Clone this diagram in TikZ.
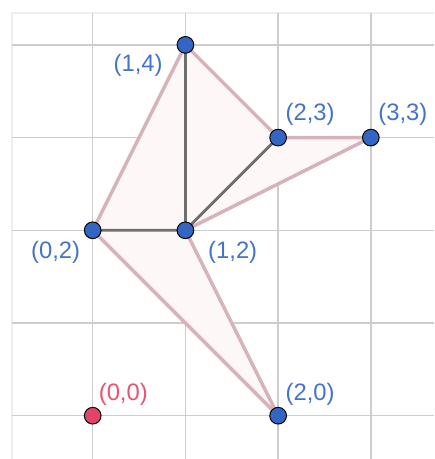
\documentclass[tikz,border=0pt]{standalone}
\usepackage{fontspec}
\setmainfont{Liberation Sans}
\usetikzlibrary{calc}
\definecolor{gridgray}{HTML}{CDCDCD}
\definecolor{framegray}{HTML}{EEEEEE}
\definecolor{edgepink}{HTML}{D7B3B9}
\definecolor{fillpink}{HTML}{FDF7F8}
\definecolor{edgegray}{HTML}{6E6E6E}
\definecolor{ptblue}{HTML}{3366C4}
\definecolor{ptred}{HTML}{E14466}
\definecolor{txtblue}{HTML}{4474C8}
\definecolor{txtred}{HTML}{E8546F}

\begin{document}
\begin{tikzpicture}[x=2cm, y=2cm,
  font=\fontsize{14.6}{16}\selectfont,
  gl/.style={draw=gridgray, line width=0.9pt},
  outer/.style={draw=edgepink, line width=2.1pt, line join=round},
  inner/.style={draw=edgegray, line width=1.7pt, line cap=round},
  pt/.style={circle, draw=black, line width=0.6pt, fill=ptblue, minimum size=0.36cm, inner sep=0pt},
  ptr/.style={pt, fill=ptred},
  lbl/.style={text=txtblue, inner sep=0pt},
  lblr/.style={lbl, text=txtred}]
  \useasboundingbox (-1.0,-0.467) rectangle (3.682,4.484);
  % ---- frame and grid
  \draw[framegray, line width=0.8pt] (-0.87,-0.467) -- (-0.87,4.344) -- (3.682,4.344);
  \foreach \gx in {0,...,3} \draw[gl] (\gx,-0.467) -- (\gx,4.344);
  \foreach \gy in {0,...,4} \draw[gl] (-0.87,\gy) -- (3.682,\gy);
  % ---- vertices
  \coordinate (p00) at (0,0);
  \coordinate (p02) at (0,2);
  \coordinate (p12) at (1,2);
  \coordinate (p14) at (1,4);
  \coordinate (p23) at (2,3);
  \coordinate (p33) at (3,3);
  \coordinate (p20) at (2,0);
  % ---- the four triangles, outline first, shared sides on top
  \fill[fillpink] (p02) -- (p14) -- (p23) -- (p33) -- (p12) -- (p20) -- cycle;
  \draw[outer] (p02) -- (p14) -- (p23) -- (p33) -- (p12) -- (p20) -- cycle;
  \draw[inner] (p14) -- (p12);
  \draw[inner] (p02) -- (p12) -- (p23);
  % ---- points
  \node[ptr] (d00) at (p00) {};
  \foreach \p in {p02,p12,p14,p23,p33,p20} \node[pt] (d\p) at (\p) {};
  % ---- labels
  \node[lblr] (l00) at ($(p00)+(0.33,0.23)$) {(0,0)};
  \node[lbl] (l02) at ($(p02)+(-0.40,-0.24)$) {(0,2)};
  \node[lbl] (l12) at ($(p12)+(0.51,-0.24)$) {(1,2)};
  \node[lbl] (l14) at ($(p14)+(-0.51,-0.22)$) {(1,4)};
  \node[lbl] (l23) at ($(p23)+(0.345,0.25)$) {(2,3)};
  \node[lbl] (l33) at ($(p33)+(0.345,0.25)$) {(3,3)};
  \node[lbl] (l20) at ($(p20)+(0.345,0.23)$) {(2,0)};
\end{tikzpicture}
\end{document}
